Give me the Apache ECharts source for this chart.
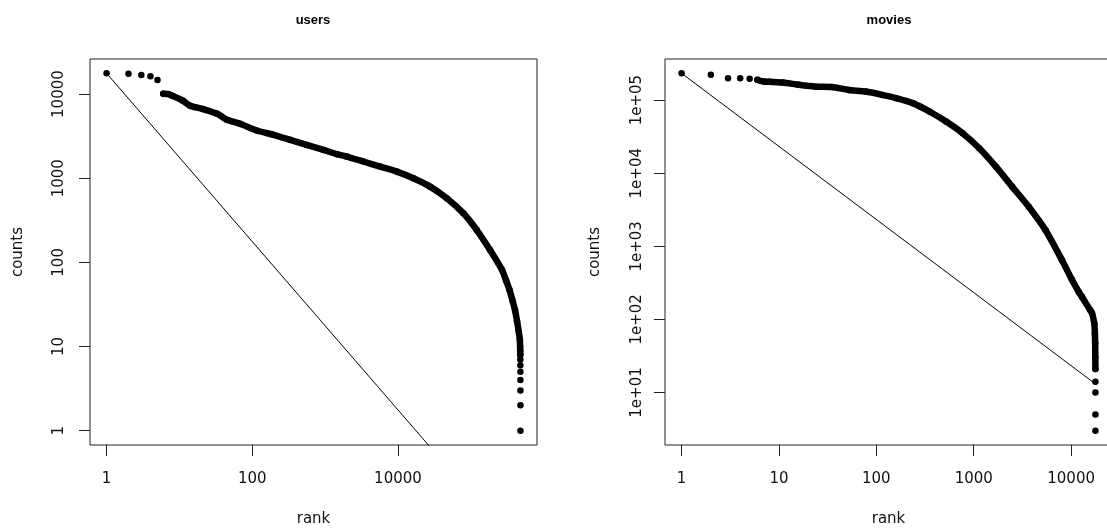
<!DOCTYPE html>
<html><head><meta charset="utf-8">
<script src="https://cdn.jsdelivr.net/npm/echarts@6/dist/echarts.min.js"></script>
<style>html,body{margin:0;padding:0;background:#fff}#c{width:1107px;height:529px}</style>
</head><body><div id="c"></div>
<script>
const panelTitles = ['users', 'movies'];
const xAxisName = 'rank';
const yAxisName = 'counts';

// users: sorted rating counts per user (rank, count)
const usersRank  = [1, 2, 3, 4, 5, 6, 7, 8, 11, 14, 21, 33, 45, 68, 115, 195, 330, 560, 950, 1450, 1980, 3350, 5680, 9630, 16300, 27600, 46800, 79100, 120800, 183800, 268500, 304700, 340400, 374300, 405000, 431200, 455300, 471400, 475000, 476500, 477500, 478300, 479000, 479500, 479800, 480000, 480100, 480189];
const usersCount = [17653, 17436, 16900, 16260, 14700, 10100, 10000, 9570, 8410, 7280, 6640, 5840, 4950, 4440, 3690, 3280, 2860, 2490, 2170, 1930, 1810, 1580, 1375, 1200, 1000, 794, 578, 383, 242, 140, 81, 61, 47, 35, 27, 20, 15, 12, 10, 9, 8, 7, 6, 5, 4, 3, 2, 1];
const usersRefRank  = [1, 480189];
const usersRefCount = [17653, 0.0368];

// movies: sorted rating counts per movie (rank, count)
const moviesRank  = [1, 2, 3, 4, 5, 6, 7, 8, 11, 16, 24, 35, 52, 78, 115, 160, 237, 351, 520, 769, 1140, 1690, 2480, 3670, 5450, 8050, 10200, 12000, 12900, 15700, 16400, 17300, 17550, 17660, 17730, 17755, 17765, 17768, 17769, 17770];
const moviesCount = [232944, 222000, 200000, 200000, 196000, 190000, 180000, 178000, 174000, 162000, 153000, 151000, 138000, 131000, 118000, 106500, 91000, 69900, 50900, 35300, 22000, 12300, 6550, 3480, 1670, 649, 348, 237, 204, 134, 121, 88, 64, 47, 30, 21, 14, 10, 5, 3];
const moviesRefRank  = [1, 17770];
const moviesRefCount = [232944, 13.1];

const usersXTicks  = [1, 100, 10000];
const usersYTicks  = [1, 10, 100, 1000, 10000];
const moviesXTicks = [1, 10, 100, 1000, 10000];
const moviesYTicks = [10, 100, 1000, 10000, 100000];

const FONT = 'DejaVu Sans';
const TXT = '#111';
const pairs = (xs, ys) => xs.map((x, i) => [x, ys[i]]);
// dense band: points from rank 6 on, down to the last densely packed count
const dense = (xs, ys, minCount) => pairs(xs, ys).filter(p => p[0] >= 6 && p[1] >= minCount);

const plainFmt = v => String(Math.round(v));
const sciFmt = v => '1e+' + String(Math.round(Math.log10(v))).padStart(2, '0');

function axis(gridIndex, min, max, ticks, fmt, isY, nameGap, labelMargin) {
  return {
    type: 'log', logBase: 10, gridIndex, min, max,
    name: isY ? yAxisName : xAxisName,
    nameLocation: 'middle', nameGap, nameRotate: isY ? 90 : 0,
    nameTextStyle: {fontFamily: FONT, fontSize: 15, color: TXT},
    axisLine: {show: false},
    axisTick: {show: true, inside: false, length: 11, customValues: ticks, lineStyle: {color: '#222', width: 1}},
    axisLabel: {show: true, customValues: ticks, formatter: fmt, rotate: isY ? 90 : 0, margin: labelMargin,
      fontFamily: FONT, fontSize: 15, color: TXT, hideOverlap: false},
    splitLine: {show: false}, minorTick: {show: false}, minorSplitLine: {show: false}
  };
}

const gridBase = {show: true, borderColor: '#222', borderWidth: 1, backgroundColor: 'transparent', containLabel: false, outerBoundsMode: 'none'};
const titleStyle = {fontFamily: 'Liberation Sans', fontWeight: 'bold', fontSize: 13, color: '#000'};

const option = {
  animation: false,
  backgroundColor: '#fff',
  title: [
    {text: panelTitles[0], left: 313, top: 14, textAlign: 'center', padding: 0, textStyle: titleStyle},
    {text: panelTitles[1], left: 889, top: 14, textAlign: 'center', padding: 0, textStyle: titleStyle}
  ],
  grid: [
    Object.assign({left: 90, top: 59, width: 447, height: 386}, gridBase),
    Object.assign({left: 665, top: 59, width: 447, height: 386}, gridBase)
  ],
  xAxis: [
    axis(0, 0.5924, 810400, usersXTicks, plainFmt, false, 67, 27),
    axis(1, 0.676, 26290, moviesXTicks, plainFmt, false, 67, 27)
  ],
  yAxis: [
    axis(0, 0.676, 26110, usersYTicks, plainFmt, true, 64, 23),
    axis(1, 1.912, 365500, moviesYTicks, sciFmt, true, 62, 20)
  ],
  series: [
    {type: 'line', xAxisIndex: 0, yAxisIndex: 0, data: pairs(usersRefRank, usersRefCount), showSymbol: false,
     lineStyle: {color: '#000', width: 1}, clip: true, silent: true},
    {type: 'line', xAxisIndex: 0, yAxisIndex: 0, data: dense(usersRank, usersCount, 8), showSymbol: false, smooth: 0.2,
     lineStyle: {color: '#000', width: 6.5, cap: 'round', join: 'round'}, clip: true, silent: true},
    {type: 'scatter', xAxisIndex: 0, yAxisIndex: 0, data: pairs(usersRank, usersCount), symbol: 'circle', symbolSize: 6.5,
     itemStyle: {color: '#000', opacity: 1}, clip: true},
    {type: 'line', xAxisIndex: 1, yAxisIndex: 1, data: pairs(moviesRefRank, moviesRefCount), showSymbol: false,
     lineStyle: {color: '#000', width: 1}, clip: true, silent: true},
    {type: 'line', xAxisIndex: 1, yAxisIndex: 1, data: dense(moviesRank, moviesCount, 21), showSymbol: false, smooth: 0.2,
     lineStyle: {color: '#000', width: 6.5, cap: 'round', join: 'round'}, clip: true, silent: true},
    {type: 'scatter', xAxisIndex: 1, yAxisIndex: 1, data: pairs(moviesRank, moviesCount), symbol: 'circle', symbolSize: 6.5,
     itemStyle: {color: '#000', opacity: 1}, clip: true}
  ]
};
const chart = echarts.init(document.getElementById('c'), null, {renderer: 'canvas'});
chart.setOption(option);
</script></body></html>
